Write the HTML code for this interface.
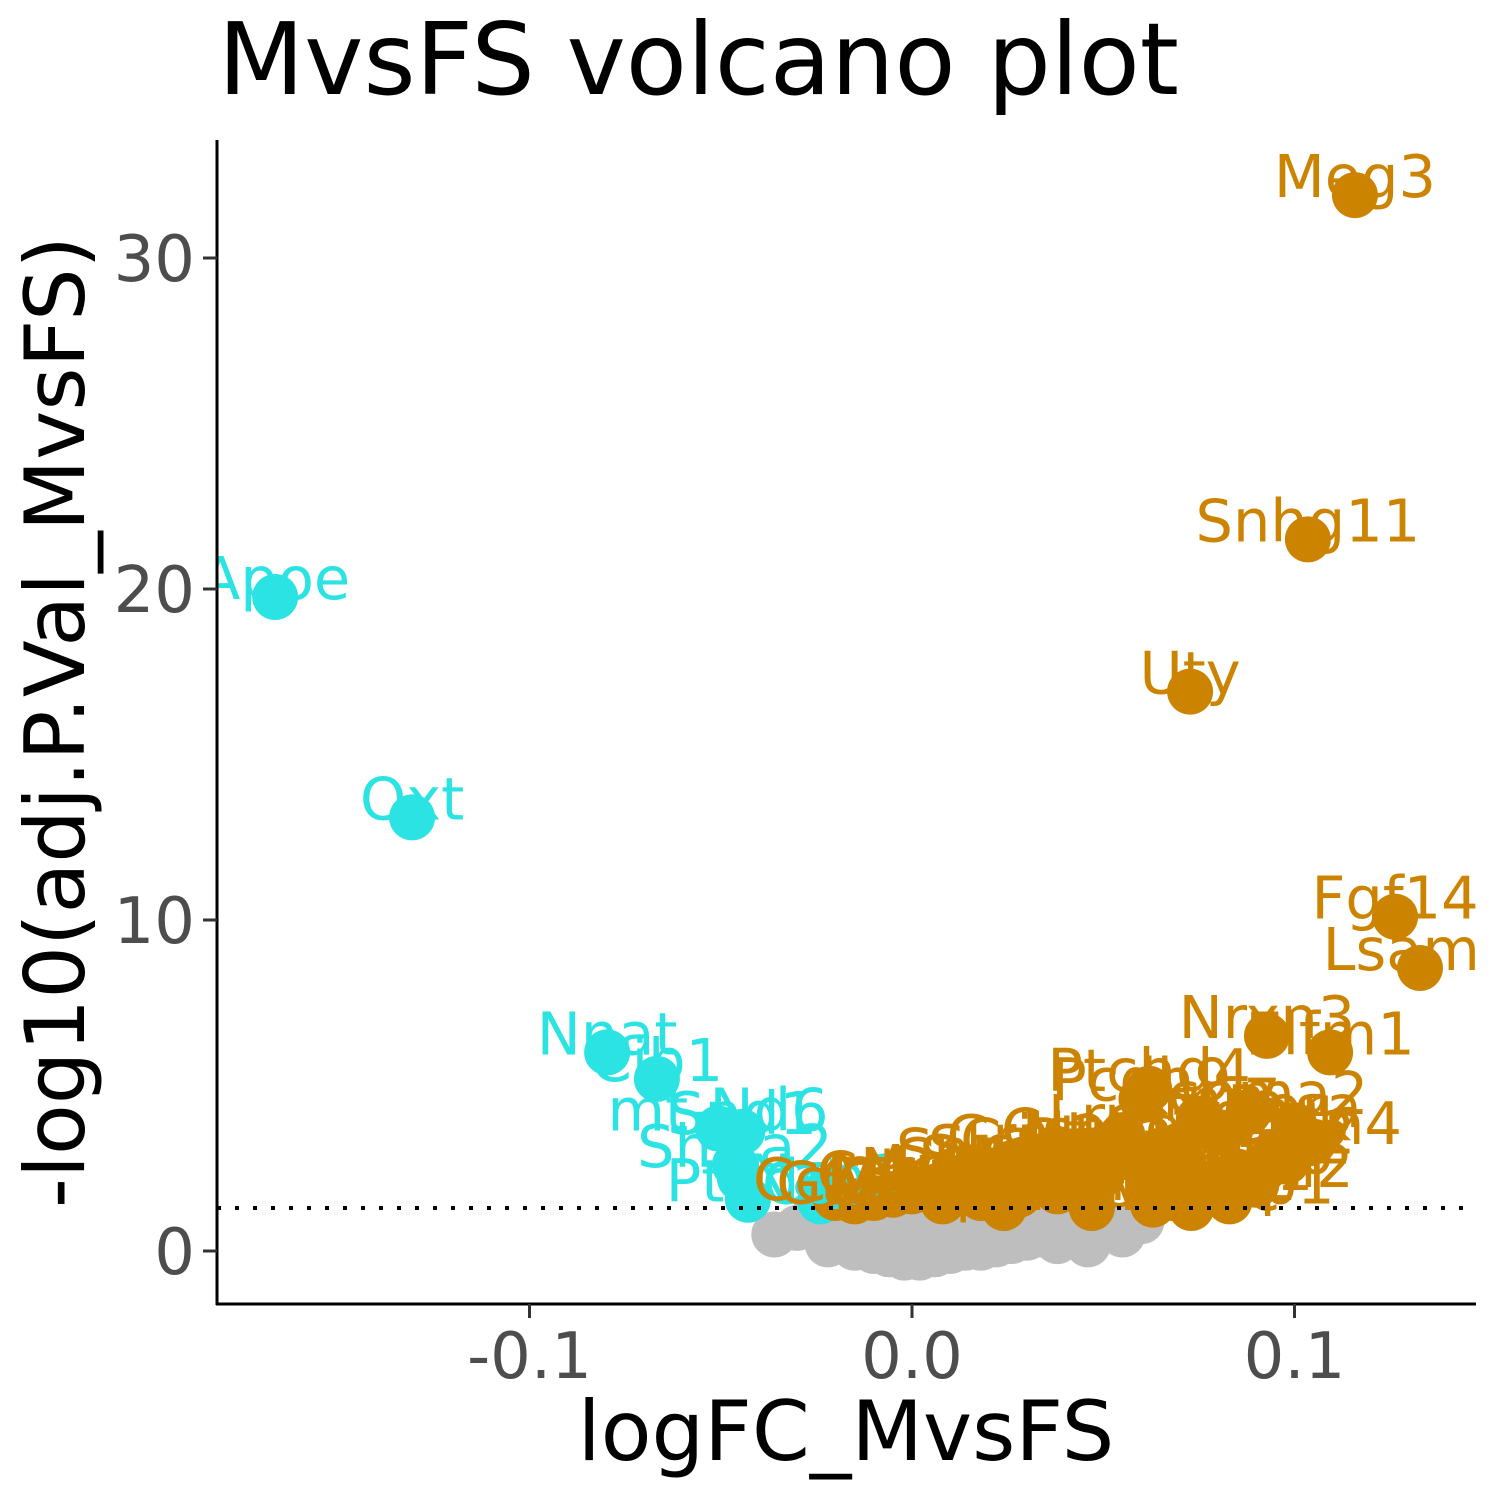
<!DOCTYPE html>
<html><head><meta charset="utf-8"><style>html,body{margin:0;padding:0;background:#fff}svg{display:block}</style></head>
<body>
<svg id="chart" width="1500" height="1500" xmlns="http://www.w3.org/2000/svg" font-family="'DejaVu Sans','Liberation Sans',sans-serif">
<defs><clipPath id="panel"><rect x="217" y="130" width="1259" height="1174"/></clipPath></defs>
<text x="218" y="94" font-size="100" fill="#000">MvsFS volcano plot</text>
<g id="marks" clip-path="url(#panel)"></g>
<line x1="217" y1="140" x2="217" y2="1305" stroke="#000" stroke-width="3"/>
<line x1="216" y1="1304" x2="1476" y2="1304" stroke="#000" stroke-width="3"/>
<g id="axes"></g>
<text x="846" y="1460" font-size="83" text-anchor="middle" fill="#000">logFC_MvsFS</text>
<text transform="translate(84,722) rotate(-90)" font-size="83" text-anchor="middle" fill="#000">-log10(adj.P.Val_MvsFS)</text>
</svg>
<script>
const xTicks = [-0.1, 0.0, 0.1];
const xTickLabels = ["-0.1", "0.0", "0.1"];
const yTicks = [0, 10, 20, 30];
const yTickLabels = ["0", "10", "20", "30"];
const threshold = 1.3;
// gray (not significant)
const nsX = [-0.036,-0.030,-0.022,-0.015,-0.010,-0.006,-0.002,0.002,0.006,0.010,0.014,0.018,0.022,0.026,0.030,0.034,0.038,0.042,0.046,0.052,0.060,-0.020,-0.012,-0.004,0.004,0.012,0.020,0.028,0.036,0.044,-0.026,0.000,0.008,0.016,0.024,0.032,0.040,0.048,-0.008,0.055];
const nsY = [0.5,0.7,0.2,0.1,0.0,-0.1,-0.2,-0.2,-0.1,0.0,0.1,0.1,0.2,0.3,0.4,0.5,0.3,0.6,0.2,0.8,0.9,0.9,0.6,0.4,0.3,0.5,0.7,0.9,1.0,0.6,1.0,0.8,1.0,0.9,1.1,1.0,1.1,0.9,0.8,0.5];
// down-regulated (cyan)
const downX = [-0.1665,-0.1307,-0.0797,-0.0667,-0.0507,-0.0444,-0.0463,-0.0429,-0.0227,-0.0450,-0.0240];
const downY = [19.76,13.1,6.0,5.2,3.7,3.6,2.6,1.55,1.7,2.2,1.5];
const downLab = ["Apoe","Oxt","Nnat","Cib1","mt-Nd6","Snd1","Shisa2","Ptgds","Nap1","","Cd9"];
// up-regulated (orange)
const upX = [0.1158,0.1035,0.0727,0.1263,0.1328,0.0928,0.1093,0.062,0.060,0.088,0.100,0.105,0.075,0.080,0.070,0.095,0.055,0.050,0.045,0.040,0.035,0.030,0.025,0.020,0.015,0.010,0.005,0.000,-0.005,-0.010,-0.015,-0.020,0.058,0.065,0.072,0.078,0.085,0.090,0.098,0.048,0.038,0.028,0.018,0.008,0.024,0.047,0.063,0.073,0.068,0.083,0.102];
const upY = [31.9,21.5,16.9,10.1,8.55,6.5,6.0,4.9,4.6,4.2,3.8,3.3,4.0,3.6,3.2,3.0,3.5,3.1,3.0,2.8,2.9,2.6,2.5,2.3,2.2,2.0,1.9,1.8,1.7,1.6,1.5,1.6,2.8,2.5,2.2,1.9,2.4,2.0,2.7,2.1,1.8,1.7,1.6,1.5,1.3,1.3,1.4,1.3,1.6,1.5,3.4];
const upLab = ["Meg3","Snhg11","Uty","Fgf14","Lsamp","Nrxn3","Elfm1","Ptchd4","Pcdh9","Kcnma2","Rora","Cntn4","Grm7","Dlg2","Celf4","Gria2","Lrrc7","Csmd1","Ntm","Cadm2","Grin2b","Slc8a1","Snap25","Sgcz","Celf2","Ank3","Nrg3","Cdh18","Mag","Cck","Gad1","Ccl27","Ppp3ca","Syt1","Kirrel3","Rbfox1","Dpp10","Tenm2","Erc2","Gpm6a","Sorbs2","Pde1a","Zbtb20","Ctnna2","Opcml","Negr1","Pcdh7","Mef2c","Cntnap2","Dlgap1","Rtk"];
const NS='http://www.w3.org/2000/svg';
const X=v=>912+v*3825, Y=v=>1251-v*33.1;
const marks=document.getElementById('marks'), axes=document.getElementById('axes');
function mk(t,a,p){const e=document.createElementNS(NS,t);for(const k in a)e.setAttribute(k,a[k]);p.appendChild(e);return e;}
for(let i=0;i<nsX.length;i++){
  const c=mk('circle',{cx:X(nsX[i]),cy:Y(nsY[i]),r:23,fill:'#BEBEBE'},marks);
  
  
}
for(let i=0;i<downX.length;i++){
  const c=mk('circle',{cx:X(downX[i]),cy:Y(downY[i]),r:23,fill:'#2BE3E3'},marks);
  
  
}
for(let i=0;i<upX.length;i++){
  const c=mk('circle',{cx:X(upX[i]),cy:Y(upY[i]),r:23,fill:'#CC8400'},marks);
  
  
}
for(let i=0;i<downX.length;i++){
  if(!downLab[i])continue;
  const t=mk('text',{x:X(downX[i]),y:Y(downY[i])+2,'font-size':59,'text-anchor':'middle',fill:'#2BE3E3'},marks);
  t.textContent=downLab[i];
  
  
}
for(let i=0;i<upX.length;i++){
  const t=mk('text',{x:X(upX[i]),y:Y(upY[i])+2,'font-size':59,'text-anchor':'middle',fill:'#CC8400'},marks);
  t.textContent=upLab[i];
  
  
}
const th=mk('line',{x1:217,x2:1476,y1:Y(threshold),y2:Y(threshold),stroke:'#000','stroke-width':4,'stroke-dasharray':'4 14'},marks);


for(let i=0;i<xTicks.length;i++){
  const l=mk('line',{x1:X(xTicks[i]),x2:X(xTicks[i]),y1:1304,y2:1318,stroke:'#333','stroke-width':3},axes);
  
  
  const t=mk('text',{x:X(xTicks[i]),y:1378,'font-size':64,'text-anchor':'middle',fill:'#4D4D4D'},axes);
  t.textContent=xTickLabels[i];
  
  
}
for(let i=0;i<yTicks.length;i++){
  const l=mk('line',{x1:203,x2:217,y1:Y(yTicks[i]),y2:Y(yTicks[i]),stroke:'#333','stroke-width':3},axes);
  
  
  const t=mk('text',{x:195,y:Y(yTicks[i])+23,'font-size':64,'text-anchor':'end',fill:'#4D4D4D'},axes);
  t.textContent=yTickLabels[i];
  
  
}
</script>
</body></html>
